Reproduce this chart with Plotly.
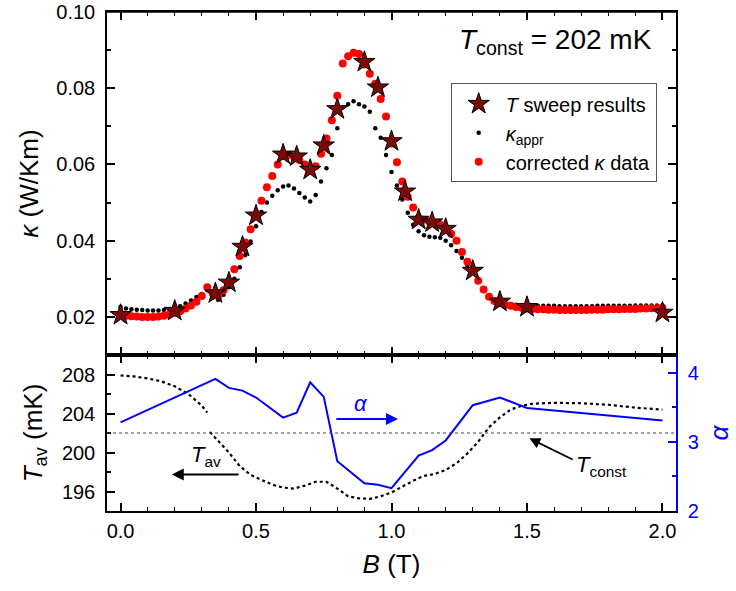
import plotly.graph_objects as go

FONT = "Liberation Sans, Arial, sans-serif"

# ---------------- data ----------------
B_grid = [0.00, 0.02, 0.04, 0.06, 0.08, 0.10, 0.12, 0.14, 0.16, 0.18,
          0.20, 0.22, 0.24, 0.26, 0.28, 0.30, 0.32, 0.34, 0.36, 0.38,
          0.40, 0.42, 0.44, 0.46, 0.48, 0.50, 0.52, 0.54, 0.56, 0.58,
          0.60, 0.62, 0.64, 0.66, 0.68, 0.70, 0.72, 0.74, 0.76, 0.78,
          0.80, 0.82, 0.84, 0.86, 0.88, 0.90, 0.92, 0.94, 0.96, 0.98,
          1.00, 1.02, 1.04, 1.06, 1.08, 1.10, 1.12, 1.14, 1.16, 1.18,
          1.20, 1.22, 1.24, 1.26, 1.28, 1.30, 1.32, 1.34, 1.36, 1.38,
          1.40, 1.42, 1.44, 1.46, 1.48, 1.50, 1.52, 1.54, 1.56, 1.58,
          1.60, 1.62, 1.64, 1.66, 1.68, 1.70, 1.72, 1.74, 1.76, 1.78,
          1.80, 1.82, 1.84, 1.86, 1.88, 1.90, 1.92, 1.94, 1.96, 1.98, 2.00]

kappa_corrected = [0.0205, 0.0203, 0.0202, 0.0201, 0.0200, 0.0200, 0.0200, 0.0201, 0.0203, 0.0206,
                   0.0210, 0.0215, 0.0222, 0.0230, 0.0240, 0.0255, 0.0278, 0.0262, 0.0255, 0.0270,
                   0.0292, 0.0325, 0.0360, 0.0395, 0.0430, 0.0465, 0.0505, 0.0540, 0.0570, 0.0600,
                   0.0622, 0.0625, 0.0620, 0.0612, 0.0600, 0.0588, 0.0595, 0.0628, 0.0668, 0.0716,
                   0.0780, 0.0865, 0.0884, 0.0893, 0.0890, 0.0862, 0.0838, 0.0812, 0.0772, 0.0726,
                   0.0655, 0.0606, 0.0555, 0.0515, 0.0487, 0.0460, 0.0455, 0.0450, 0.0447, 0.0442,
                   0.0432, 0.0418, 0.0400, 0.0370, 0.0345, 0.0320, 0.0295, 0.0272, 0.0253, 0.0242,
                   0.0236, 0.0232, 0.0229, 0.0226, 0.0224, 0.0222, 0.0221, 0.0220, 0.0220, 0.0219,
                   0.0219, 0.0218, 0.0218, 0.0218, 0.0218, 0.0218, 0.0218, 0.0219, 0.0219, 0.0219,
                   0.0220, 0.0220, 0.0220, 0.0221, 0.0221, 0.0221, 0.0222, 0.0222, 0.0223, 0.0223, 0.0224]

kappa_appr = [0.0226, 0.0222, 0.0220, 0.0219, 0.0218, 0.0217, 0.0217, 0.0217, 0.0218, 0.0220,
              0.0223, 0.0228, 0.0235, 0.0243, 0.0252, 0.0260, 0.0270, 0.0250, 0.0245, 0.0258,
              0.0278, 0.0300, 0.0330, 0.0362, 0.0398, 0.0438, 0.0475, 0.0500, 0.0518, 0.0532,
              0.0542, 0.0545, 0.0537, 0.0525, 0.0513, 0.0503, 0.0520, 0.0555, 0.0590, 0.0625,
              0.0695, 0.0750, 0.0758, 0.0766, 0.0758, 0.0752, 0.0738, 0.0695, 0.0670, 0.0625,
              0.0580, 0.0545, 0.0508, 0.0473, 0.0442, 0.0425, 0.0414, 0.0410, 0.0409, 0.0408,
              0.0400, 0.0388, 0.0373, 0.0355, 0.0335, 0.0317, 0.0292, 0.0272, 0.0256, 0.0244,
              0.0237, 0.0234, 0.0233, 0.0232, 0.0231, 0.0230, 0.0230, 0.0229, 0.0229, 0.0229,
              0.0229, 0.0228, 0.0228, 0.0228, 0.0228, 0.0228, 0.0228, 0.0228, 0.0229, 0.0229,
              0.0229, 0.0229, 0.0229, 0.0229, 0.0229, 0.0230, 0.0230, 0.0230, 0.0230, 0.0230, 0.0230]

B_sweep = [0.0, 0.2, 0.35, 0.4, 0.45, 0.5, 0.6, 0.65, 0.7, 0.75, 0.8, 0.9, 0.95,
           1.0, 1.05, 1.1, 1.15, 1.2, 1.3, 1.4, 1.5, 2.0]
kappa_sweep = [0.0205, 0.0216, 0.0262, 0.0290, 0.0384, 0.0466, 0.0626, 0.0621, 0.0586,
               0.0650, 0.0745, 0.0869, 0.0802, 0.0661, 0.0529, 0.0455, 0.0448, 0.0431,
               0.0321, 0.0240, 0.0226, 0.0211]

B_alpha = [0.0, 0.35, 0.4, 0.45, 0.5, 0.6, 0.65, 0.7, 0.75, 0.8, 0.9, 0.95,
           1.0, 1.1, 1.15, 1.2, 1.3, 1.4, 1.5, 2.0]
alpha = [3.28, 3.91, 3.78, 3.74, 3.64, 3.35, 3.42, 3.86, 3.65, 2.72, 2.40, 2.38,
         2.33, 2.80, 2.88, 3.02, 3.53, 3.64, 3.49, 3.31]

B_Tav = [0.00, 0.05, 0.10, 0.15, 0.20, 0.25, 0.28, 0.30, 0.32, 0.325,
         0.33, 0.36, 0.40, 0.44, 0.48, 0.52, 0.56, 0.60, 0.64, 0.68, 0.72, 0.76,
         0.80, 0.84, 0.88, 0.92, 0.96, 1.00, 1.04, 1.08, 1.12, 1.16, 1.20, 1.24,
         1.28, 1.32, 1.36, 1.40, 1.44, 1.48, 1.52, 1.60, 1.70, 1.80, 1.90, 2.00]
T_av = [207.9, 207.8, 207.6, 207.3, 206.8, 206.0, 205.3, 204.8, 204.1, None,
        202.1, 201.2, 200.0, 198.6, 197.7, 197.2, 196.7, 196.4, 196.3, 196.6, 197.0, 197.0,
        196.3, 195.5, 195.3, 195.25, 195.5, 195.9, 196.5, 197.1, 197.6, 197.8, 198.2, 198.9,
        199.9, 201.1, 202.6, 203.6, 204.4, 204.8, 205.0, 205.1, 205.05, 204.9, 204.6, 204.4]

T_const = 202.0

# ---------------- figure ----------------
fig = go.Figure()

fig.add_trace(go.Scatter(
    x=B_grid, y=kappa_appr, mode="markers", xaxis="x2", yaxis="y2",
    marker=dict(color="black", size=4.5), name="<i>κ</i><sub>appr</sub>", legendrank=2))
fig.add_trace(go.Scatter(
    x=B_grid, y=kappa_corrected, mode="markers", xaxis="x2", yaxis="y2",
    marker=dict(color="#ff0000", size=8), name="corrected <i>κ</i> data", legendrank=3))
fig.add_trace(go.Scatter(
    x=B_sweep, y=kappa_sweep, mode="markers", xaxis="x2", yaxis="y2",
    marker=dict(symbol="star", color="#7a0a0a", size=16, line=dict(color="black", width=1)),
    name="<i>T</i> sweep results", legendrank=1))

fig.add_trace(go.Scatter(
    x=B_Tav, y=T_av, mode="lines", xaxis="x", yaxis="y", connectgaps=False,
    line=dict(color="black", width=2.2, dash="dot"), showlegend=False))
fig.add_trace(go.Scatter(
    x=B_alpha, y=alpha, mode="lines", xaxis="x", yaxis="y3",
    line=dict(color="#0000ff", width=2), showlegend=False))

split = 0.3126
tick_font = dict(family=FONT, size=20, color="black")
title_font = dict(family=FONT, size=26, color="black")

common_x = dict(range=[-0.05, 2.05], showline=True, linecolor="black", linewidth=1.5,
                ticks="inside", ticklen=8, tickwidth=1.5, tickcolor="black",
                dtick=0.5, tick0=0, showgrid=False, zeroline=False, automargin=False,
                minor=dict(ticks="inside", ticklen=4, dtick=0.1, tickwidth=1.2, tickcolor="black"))

fig.update_layout(
    width=736, height=591,
    margin=dict(l=107, r=60, t=12, b=80, autoexpand=False),
    paper_bgcolor="white", plot_bgcolor="white",
    font=dict(family=FONT, color="black"),
    xaxis=dict(**common_x, anchor="y", domain=[0, 1], mirror="ticks",
               tickfont=tick_font, ticklabelstandoff=1,
               tickformat=".1f",
               title=dict(text="<i>B</i> (T)", font=title_font, standoff=14)),
    xaxis2=dict(**common_x, anchor="y2", domain=[0, 1], mirror="ticks",
                matches="x", showticklabels=False),
    xaxis3=dict(**common_x, anchor="y2", overlaying="x2", side="top",
                showticklabels=False),
    yaxis=dict(domain=[0, split], range=[194, 210], showline=True, linecolor="black",
               linewidth=1.5, ticks="inside", ticklen=8, tickwidth=1.5, tickcolor="black",
               tickvals=[196, 200, 204, 208], tickfont=tick_font, ticklabelstandoff=6,
               minor=dict(ticks="inside", ticklen=4, tickvals=[198, 202, 206], tickcolor="black"),
               showgrid=False, zeroline=False, mirror=False, automargin=False,
               ticklabeloverflow="allow",
               title=dict(text="<i>T</i><sub>av</sub> (mK)", font=title_font, standoff=12)),
    yaxis3=dict(domain=[0, split], range=[2, 4.255], overlaying="y", side="right", anchor="x",
                showline=True, linecolor="#0000ff", linewidth=1.5, ticks="inside", ticklen=8,
                tickwidth=1.5, tickcolor="#0000ff", tickvals=[2, 3, 4], automargin=False,
                tickfont=dict(family=FONT, size=20, color="#0000ff"), ticklabelstandoff=6,
                minor=dict(ticks="inside", ticklen=4, tickvals=[2.5, 3.5], tickcolor="#0000ff"),
                showgrid=False, zeroline=False, ticklabeloverflow="allow",
                title=dict(text="<i>α</i>", font=dict(family=FONT, size=26, color="#0000ff"),
                           standoff=12)),
    yaxis2=dict(domain=[split, 1], range=[0.01, 0.10], showline=True, linecolor="black",
                linewidth=1.5, ticks="inside", ticklen=8, tickwidth=1.5, tickcolor="black",
                tickvals=[0.02, 0.04, 0.06, 0.08, 0.10], tickformat=".2f", mirror="ticks",
                tickfont=tick_font, ticklabelstandoff=6, anchor="x2", automargin=False,
                ticklabeloverflow="allow",
                minor=dict(ticks="inside", ticklen=4, tickvals=[0.01, 0.03, 0.05, 0.07, 0.09],
                           tickcolor="black"),
                showgrid=False, zeroline=False,
                title=dict(text="<i>κ</i> (W/Km)", font=title_font, standoff=10)),
    legend=dict(x=0.604, y=0.857, xanchor="left", yanchor="top",
                bordercolor="#555555", borderwidth=1, bgcolor="white",
                font=dict(family=FONT, size=20, color="black"),
                itemwidth=44, tracegroupgap=0),
    showlegend=True,
)

# frame line on top of upper panel (paper-referenced, not clipped)
fig.add_shape(type="line", xref="paper", yref="paper", x0=0, x1=1, y0=1, y1=1,
              line=dict(color="black", width=1.5), layer="above")

# T_const reference line in bottom panel
fig.add_shape(type="line", xref="x domain", yref="y", x0=0, x1=1, y0=T_const, y1=T_const,
              line=dict(color="#444444", width=1, dash="dot"))

annotations = [
    dict(text="<i>T</i><sub>const</sub> = 202 mK", xref="paper", yref="paper",
         x=0.789, y=0.94, xanchor="center", yanchor="middle", showarrow=False,
         font=dict(family=FONT, size=28, color="black")),
    # alpha arrow
    dict(text="<i>α</i>", xref="x", yref="y", x=0.887, y=205.0, showarrow=False,
         font=dict(family=FONT, size=22, color="#0000ff")),
    dict(text="", xref="x", yref="y", axref="x", ayref="y", x=1.024, y=203.44,
         ax=0.791, ay=203.44, showarrow=True, arrowhead=2, arrowsize=1.2, arrowwidth=2,
         arrowcolor="#0000ff"),
    # T_av arrow
    dict(text="<i>T</i><sub>av</sub>", xref="x", yref="y", x=0.316, y=199.6, showarrow=False,
         font=dict(family=FONT, size=22, color="black")),
    dict(text="", xref="x", yref="y", axref="x", ayref="y", x=0.189, y=197.74,
         ax=0.441, ay=197.74, showarrow=True, arrowhead=2, arrowsize=1.2, arrowwidth=2,
         arrowcolor="black"),
    # T_const arrow
    dict(text="<i>T</i><sub>const</sub>", xref="x", yref="y", x=1.774, y=198.6, showarrow=False,
         font=dict(family=FONT, size=22, color="black")),
    dict(text="", xref="x", yref="y", axref="x", ayref="y", x=1.509, y=201.45,
         ax=1.674, ay=199.2, showarrow=True, arrowhead=2, arrowsize=1.2, arrowwidth=1.8,
         arrowcolor="black"),
]
fig.update_layout(annotations=annotations)

fig.write_html("out.html", config={"displayModeBar": False},
               post_script="document.body.style.margin='0px';document.body.style.padding='0px';")
